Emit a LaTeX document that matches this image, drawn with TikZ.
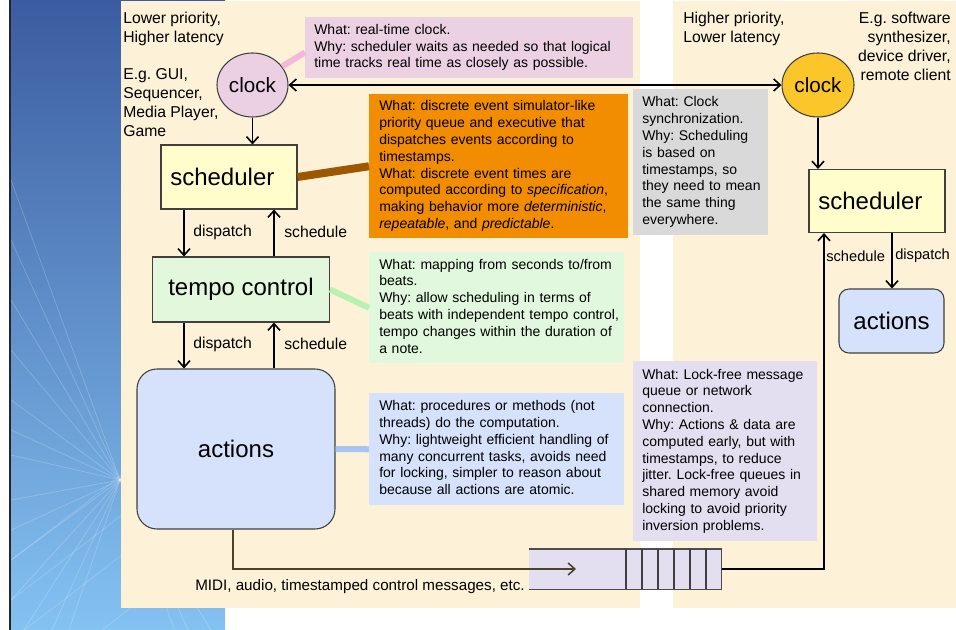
\documentclass[tikz,border=0pt]{standalone}
\usepackage{fontspec}
\setmainfont{Liberation Sans}
\usetikzlibrary{arrows.meta,shapes.geometric}
\setlength\parindent{0pt}
\frenchspacing
\definecolor{cream}{HTML}{FDF1D8}
\definecolor{bgtop}{HTML}{3B5CA0}
\definecolor{bgbot}{HTML}{84C2F2}
\definecolor{pinknote}{HTML}{ECD1E3}
\definecolor{pinkclk}{HTML}{EBD0E4}
\definecolor{pinkc}{HTML}{F6B8DA}
\definecolor{orangenote}{HTML}{F28C00}
\definecolor{brownc}{HTML}{9C5700}
\definecolor{graynote}{HTML}{D9D9D9}
\definecolor{greennote}{HTML}{E2F8DE}
\definecolor{greenbox}{HTML}{E2F7DC}
\definecolor{greenc}{HTML}{B8F2B0}
\definecolor{bluenote}{HTML}{D6E1FC}
\definecolor{bluec}{HTML}{A8C4F6}
\definecolor{lavnote}{HTML}{E3DFF0}
\definecolor{yellowbox}{HTML}{FFFDCC}
\definecolor{goldclk}{HTML}{FBC62A}
\definecolor{olive}{HTML}{4E4228}
\newcommand\bigfnt{\fontsize{18}{21}\selectfont}
\newcommand\clkfnt{\fontsize{15.5}{18}\selectfont}
\newcommand\lblfnt{\fontsize{11.8}{14.3}\selectfont}
\newcommand\smlblfnt{\fontsize{11}{13}\selectfont}
\newcommand\midifnt{\fontsize{11.4}{14}\selectfont}
\newcommand\notefnt{\fontsize{10.5}{12.6}\selectfont}
\tikzset{
  note/.style={anchor=north west, inner xsep=6.75pt, inner ysep=0pt, font=\notefnt, align=left},
  box/.style={draw=black!75, line width=0.8pt, font=\bigfnt, inner sep=0pt},
  clk/.style={ellipse, draw=black!75, line width=0.8pt, font=\clkfnt, inner sep=0pt},
  arr/.style={line width=1.2pt, -{Straight Barb[length=5pt,width=9pt]}},
  lbl/.style={font=\lblfnt, inner sep=0pt, align=left},
  conn/.style={line width=#1, line cap=butt},
}
\begin{document}
\begin{tikzpicture}[x=0.75pt,y=-0.75pt]
\useasboundingbox (0,0) rectangle (956,630);
% background
\fill[white] (0,0) rectangle (956,630);
\shade[top color=bgtop, bottom color=bgbot] (11,0) rectangle (225,630);
\begin{scope}
  \clip (11,0) rectangle (225,630);
  \foreach \y in {180,240,300,350,400,430,455,500,530,560,600,650,720,800}
    \draw[white, opacity=0.2, line width=0.6pt] (11,\y) -- (229,{960-\y});
  \foreach \y in {560,600,640,700}
    \draw[white, opacity=0.18, line width=0.6pt] (11,\y) .. controls (90,{\y-60}) .. (229,{\y-170});
\end{scope}
\draw[line width=1.5pt, black!85] (10,0) -- (10,630);
\fill[cream] (121,1) rectangle (640,608);
\fill[cream] (673,1) rectangle (956,608);

% side texts
\node[lbl, anchor=north west] (lowtxt) at (123,12) {Lower priority,\\Higher latency};
\node[lbl, anchor=north west] (egL) at (123,68) {E.g. GUI,\\Sequencer,\\Media Player,\\Game};
\node[lbl, anchor=north west] (hightxt) at (683,12) {Higher priority,\\Lower latency};
\node[lbl, anchor=north east, align=right] (egR) at (951,12) {E.g. software\\synthesizer,\\device driver,\\remote client};

% notes
\node[note, fill=pinknote, minimum width=246pt, minimum height=45.75pt, text width=232.5pt] (npink) at (305,17)
 {\begin{tabular}{@{}l@{}}What: real-time clock.\\Why: scheduler waits as needed so that logical\\time tracks real time as closely as possible.\end{tabular}};
\node[note, fill=orangenote, minimum width=194.25pt, minimum height=108pt, text width=179.25pt, inner xsep=7.5pt] (norange) at (369,94)
 {\begin{tabular}{@{}l@{}}What: discrete event simulator-like\\priority queue and executive that\\dispatches events according to\\timestamps.\\What: discrete event times are\\computed according to \textit{specification},\\making behavior more \textit{deterministic},\\\textit{repeatable}, and \textit{predictable}.\end{tabular}};
\node[note, fill=graynote, minimum width=101.25pt, minimum height=109.5pt, text width=87.75pt] (ngray) at (633,89)
 {\begin{tabular}{@{}l@{}}What: Clock\\synchronization.\\Why: Scheduling\\is based on\\timestamps, so\\they need to mean\\the same thing\\everywhere.\end{tabular}};
\node[note, fill=greennote, minimum width=191.25pt, minimum height=83.25pt, text width=176.25pt, inner xsep=7.5pt] (ngreen) at (369,252)
 {\begin{tabular}{@{}l@{}}What: mapping from seconds to/from\\beats.\\Why: allow scheduling in terms of\\beats with independent tempo control,\\tempo changes within the duration of\\a note.\end{tabular}};
\node[note, fill=bluenote, minimum width=191.25pt, minimum height=84pt, text width=176.25pt, inner xsep=7.5pt] (nblue) at (369,393)
 {\begin{tabular}{@{}l@{}}What: procedures or methods (not\\threads) do the computation.\\Why: lightweight efficient handling of\\many concurrent tasks, avoids need\\for locking, simpler to reason about\\because all actions are atomic.\end{tabular}};
\node[note, fill=lavnote, minimum width=138pt, minimum height=135pt, text width=124.5pt] (nlav) at (633,361)
 {\begin{tabular}{@{}l@{}}What: Lock-free message\\queue or network\\connection.\\Why: Actions \& data are\\computed early, but with\\timestamps, to reduce\\jitter. Lock-free queues in\\shared memory avoid\\locking to avoid priority\\inversion problems.\end{tabular}};

% main nodes
\node[clk, fill=pinkclk, minimum width=53.25pt, minimum height=48pt] (clockL) at (252.5,85) {clock};
\node[clk, fill=goldclk, minimum width=54pt, minimum height=48pt] (clockR) at (818,85) {clock};
\node[box, fill=yellowbox, minimum width=102pt, minimum height=48pt] (schedL) at (229,177) {scheduler\rule{10pt}{0pt}};
\node[box, fill=greenbox, minimum width=132.75pt, minimum height=48.75pt] (tempo) at (241,289.5) {tempo control};
\node[box, fill=bluenote, rounded corners=15pt, minimum width=148.5pt, minimum height=120pt] (actL) at (236,449) {actions};
\node[box, fill=yellowbox, minimum width=102pt, minimum height=47.25pt] (schedR) at (877,201) {scheduler\rule{10pt}{0pt}};
\node[box, fill=bluenote, rounded corners=7.5pt, minimum width=78.75pt, minimum height=48pt] (actR) at (891.5,321) {actions};

% thick note connectors
\draw[conn=4.5pt, pinkc] (clockL.32) -- ([yshift=-3.5pt]npink.west);
\draw[conn=6pt, brownc] (schedL.east) -- (norange.west);
\draw[conn=4.5pt, greenc] (tempo.east) -- (ngreen.west);
\draw[conn=4.5pt, bluec] (actL.east) -- (nblue.west);

% queue
\node[fill=lavnote, minimum width=144pt, minimum height=30pt, inner sep=0pt, anchor=north west] (queue) at (529,549) {};
\draw[line width=0.8pt, black!70] (queue.north west) -- (queue.north east) -- (queue.south east) -- (queue.south west);
\foreach \x in {626,642,658,674,690,706}
  \draw[line width=0.8pt, black!75] (\x,549) -- (\x,589);

% arrows
\coordinate (xdL) at (184,0);
\coordinate (xsL) at (274,0);
\coordinate (xa) at (233,0);
\coordinate (xr) at (824,0);
\coordinate (xd2) at (892,0);
\coordinate (qend) at (576,569);
\draw[line width=1.2pt, {Straight Barb[length=5pt,width=9pt]}-{Straight Barb[length=5pt,width=9pt]}] (clockL.east) -- (clockR.west);
\draw[arr] (clockL.south) -- (clockL.south |- schedL.north);
\draw[arr] (xdL |- schedL.south) -- (xdL |- tempo.north);
\draw[arr] (xsL |- tempo.north) -- (xsL |- schedL.south);
\draw[arr] (xdL |- tempo.south) -- (xdL |- actL.north);
\draw[arr] (xsL |- actL.north) -- (xsL |- tempo.south);
\draw[arr] (clockR.south) -- (clockR.south |- schedR.north);
\draw[arr] (xd2 |- schedR.south) -- (xd2 |- actR.north);
\draw[arr, olive] (xa |- actL.south) |- (qend);
\draw[arr] (queue.east) -| (xr |- schedR.south);

% arrow labels
\node[lbl, anchor=west] (d1) at (193,232) {dispatch};
\node[lbl, anchor=west] (s1) at (284,232) {schedule};
\node[lbl, anchor=west] (d2) at (193,344) {dispatch};
\node[lbl, anchor=west] (s2) at (284,344) {schedule};
\node[lbl, font=\smlblfnt, anchor=west] (s3) at (826,256) {schedule};
\node[lbl, font=\smlblfnt, anchor=west] (d3) at (895,256) {dispatch};
\node[lbl, font=\midifnt, anchor=base west] (midi) at (195,590) {MIDI, audio, timestamped control messages, etc.};
\end{tikzpicture}
\end{document}
